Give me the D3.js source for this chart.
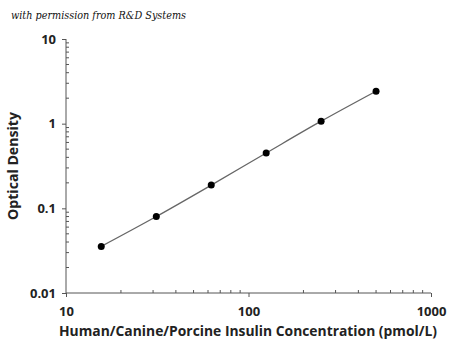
<!DOCTYPE html>
<html lang="en">
<head>
<meta charset="UTF-8">
<title>Insulin Standard Curve</title>
<script src="https://d3js.org/d3.v7.min.js"></script>
<style>
    body { margin: 0; background: #fff; }
    .tick text { font-family: "Open Sans", Arial, sans-serif; font-weight: bold; font-size: 13px; fill: #222; }
    .axis path, .axis line { stroke: #555; }
</style>
</head>
<body>
<svg id="chart" width="450" height="350"></svg>
<script>
    // standard curve data
    const concentrations = [15.6, 31.25, 62.5, 125, 250, 500];
    const opticalDensity = [0.0355, 0.080, 0.188, 0.45, 1.07, 2.42];
    const xTicks = [10, 100, 1000];
    const yTicks = [0.01, 0.1, 1, 10];

    const svg = d3.select("#chart");

    const x = d3.scaleLog().domain([10, 1000]).range([66, 431]);
    const y = d3.scaleLog().domain([0.01, 10]).range([293, 39]);

    // minor ticks
    const xMinor = [], yMinor = [];
    [10, 100].forEach(b => { for (let i = 2; i <= 9; i++) xMinor.push(b * i); });
    [0.01, 0.1, 1].forEach(b => { for (let i = 2; i <= 9; i++) yMinor.push(b * i); });

    // y axis
    const gy = svg.append("g").attr("class", "axis")
        .attr("transform", `translate(${x(10)},0)`)
        .call(d3.axisLeft(y).tickValues(yTicks).tickFormat(d => d).tickSize(4).tickPadding(6));
    gy.select(".domain").attr("d", `M0,${y(0.01)}V${y(10)}`);
    gy.selectAll(".minor").data(yMinor).enter().append("line")
        .attr("class", "minor")
        .attr("x1", 0).attr("x2", 3)
        .attr("y1", d => y(d)).attr("y2", d => y(d))
        .attr("stroke", "#555");

    // x axis
    const gx = svg.append("g").attr("class", "axis")
        .attr("transform", `translate(0,${y(0.01)})`)
        .call(d3.axisBottom(x).tickValues(xTicks).tickFormat(d => d).tickSize(4).tickPadding(10));
    gx.select(".domain").attr("d", `M${x(10)},0H${x(1000)}`);
    gx.selectAll(".minor").data(xMinor).enter().append("line")
        .attr("class", "minor")
        .attr("y1", 0).attr("y2", -3)
        .attr("x1", d => x(d)).attr("x2", d => x(d))
        .attr("stroke", "#555");

    // curve
    const pts = concentrations.map((c, i) => [c, opticalDensity[i]]);
    svg.append("path")
        .datum(pts)
        .attr("fill", "none")
        .attr("stroke", "#666")
        .attr("stroke-width", 1.3)
        .attr("d", d3.line().x(d => x(d[0])).y(d => y(d[1])).curve(d3.curveMonotoneX));

    svg.selectAll(".dot").data(pts).enter().append("circle")
        .attr("class", "dot")
        .attr("cx", d => x(d[0]))
        .attr("cy", d => y(d[1]))
        .attr("r", 3.5)
        .attr("fill", "#000");

    // axis titles
    svg.append("text")
        .attr("x", 248).attr("y", 336)
        .attr("text-anchor", "middle")
        .attr("font-family", "'Open Sans', Arial, sans-serif")
        .attr("font-weight", "bold")
        .attr("font-size", "14px")
        .attr("textLength", 378)
        .attr("lengthAdjust", "spacingAndGlyphs")
        .attr("fill", "#222")
        .text("Human/Canine/Porcine Insulin Concentration (pmol/L)");

    svg.append("text")
        .attr("transform", "translate(18,166) rotate(-90)")
        .attr("text-anchor", "middle")
        .attr("font-family", "'Open Sans', Arial, sans-serif")
        .attr("font-weight", "bold")
        .attr("font-size", "14px")
        .attr("textLength", 108)
        .attr("lengthAdjust", "spacingAndGlyphs")
        .attr("fill", "#222")
        .text("Optical Density");

    // credit line
    svg.append("text")
        .attr("x", 11).attr("y", 19)
        .attr("font-family", "'DejaVu Serif', serif")
        .attr("font-style", "italic")
        .attr("font-size", "11px")
        .attr("textLength", 175)
        .attr("lengthAdjust", "spacingAndGlyphs")
        .attr("fill", "#111")
        .text("with permission from R&D Systems");
</script>
</body>
</html>
